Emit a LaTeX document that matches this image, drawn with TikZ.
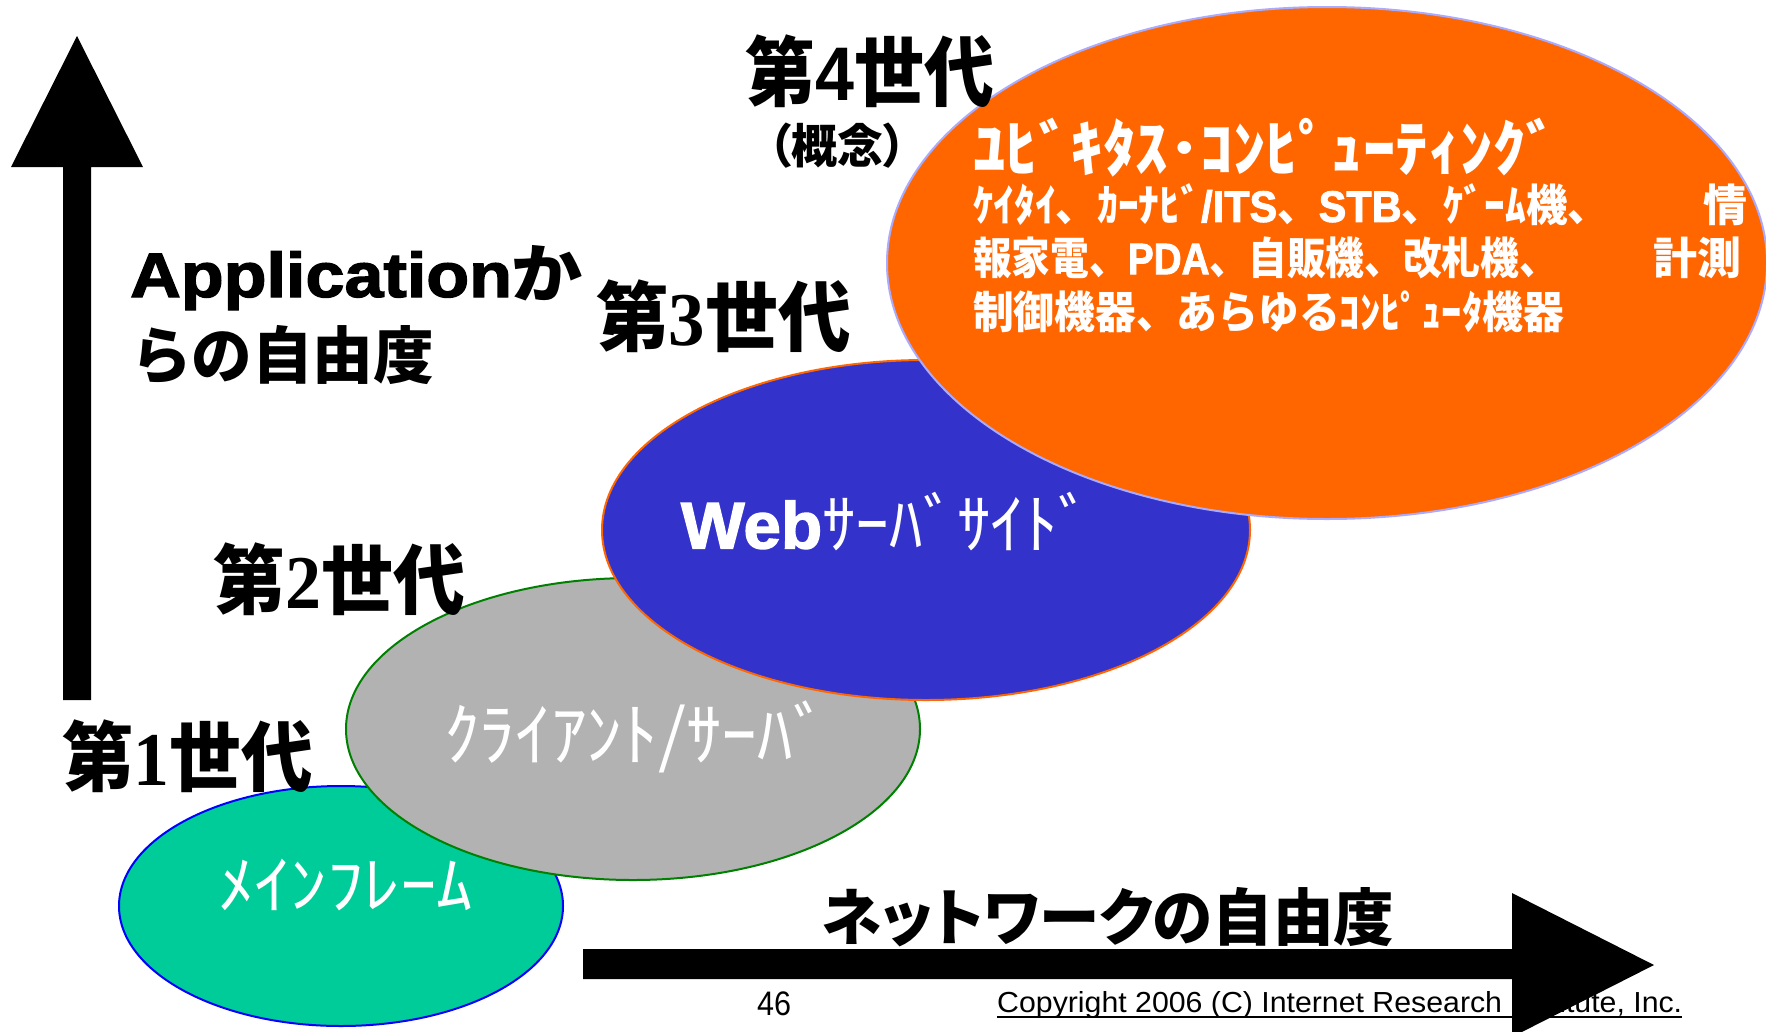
\documentclass[tikz,border=0pt]{standalone}
\usepackage{fontspec}
\usepackage{graphicx}
\usetikzlibrary{shapes.geometric}
\newfontfamily\jp{Noto Sans CJK JP}
\newfontfamily\jpp{Noto Sans CJK JP}[RawFeature=+palt]
\newfontfamily\heavy{Liberation Sans Bold}[FakeBold=2]
\newfontfamily\lsans{Liberation Sans}
\newfontfamily\lserif{Liberation Serif}
\definecolor{mfgreen}{RGB}{0,204,153}
\definecolor{mfline}{RGB}{0,0,255}
\definecolor{csgray}{RGB}{178,178,178}
\definecolor{csline}{RGB}{0,128,0}
\definecolor{webblue}{RGB}{51,51,204}
\definecolor{weborange}{RGB}{255,102,0}
\definecolor{ubiline}{RGB}{170,170,255}
\newcommand\fitw[2]{\resizebox{#1pt}{\height}{#2}}
\newcommand\fsz[1]{\fontsize{#1}{#1}\selectfont}
\tikzset{
  ell/.style={ellipse, inner sep=0pt, line width=2pt},
  txt/.style={inner sep=0pt, outer sep=0pt, anchor=center},
  wtxt/.style={txt, text=white},
}
\begin{document}
\begin{tikzpicture}[x=1pt,y=-1pt]
\useasboundingbox (0,0) rectangle (1766,1031);
\fill[white] (0,0) rectangle (1766,1031);
% vertical arrow
\fill[black] (63,700) -- (63,167) -- (11,167) -- (77,36) -- (143,167) -- (91,167) -- (91,700) -- cycle;
% ellipses
\node[ell, fill=mfgreen, draw=mfline, minimum width=444pt, minimum height=240pt] (mf) at (341,906) {};
\node[ell, fill=csgray, draw=csline, minimum width=574pt, minimum height=302pt] (cs) at (633,729) {};
\node[ell, fill=webblue, draw=weborange, minimum width=648pt, minimum height=340pt] (web) at (926,530) {};
\node[ell, fill=weborange, draw=ubiline, minimum width=880pt, minimum height=512pt] (ubi) at (1327,263) {};
% generation labels
\node[txt] (g4) at (870,71) {\fitw{249}{\fsz{76}\jp\bfseries 第{\lsans\bfseries 4}世代}};
\node[txt] (g4c) at (837,146) {\fitw{138}{\fsz{47}\jpp\bfseries （概念）}};
\node[txt] (g3) at (723.5,316.5) {\fitw{255}{\fsz{76}\jp\bfseries 第{\lserif\bfseries 3}世代}};
\node[txt] (g2) at (339,579) {\fitw{252}{\fsz{76}\jp\bfseries 第{\lserif\bfseries 2}世代}};
\node[txt] (g1) at (187.5,756.5) {\fitw{251}{\fsz{76}\jp\bfseries 第{\lserif\bfseries 1}世代}};
% axis labels
\node[inner sep=0pt, anchor=base west] (app) at (130,297) {\fitw{453}{\fsz{63}\heavy Application{\jp\bfseries\fsz{64}か}}};
\node[txt] (app2) at (282.5,355.5) {\fitw{303}{\fsz{62}\jp\bfseries らの自由度}};
\node[txt] (net) at (1108,917.5) {\fitw{572}{\fsz{62}\jpp\bfseries ネットワークの自由度}};
% ellipse labels
\node[wtxt] (mft) at (345.5,885) {\fitw{255}{\fsz{64}\jp ﾒｲﾝﾌﾚｰﾑ}};
\node[wtxt] (cst) at (636.5,737) {\fitw{385}{\fsz{70}\jp ｸﾗｲｱﾝﾄ/ｻｰﾊﾞ}};
\node[wtxt] (webt) at (886.5,521.5) {\fitw{411}{\fsz{66}\heavy Web{\jp ｻｰﾊﾞｻｲﾄﾞ}}};
\node[wtxt, anchor=west] (ubt) at (973,148) {\fitw{585}{\fsz{62}\jp\bfseries ﾕﾋﾞｷﾀｽ･ｺﾝﾋﾟｭｰﾃｨﾝｸﾞ}};
\node[wtxt, anchor=west] (ub2) at (973,205) {\fitw{636}{\fsz{44}\jp\bfseries ｹｲﾀｲ、ｶｰﾅﾋﾞ{\heavy /ITS}、{\heavy STB}、ｹﾞｰﾑ機、}};
\node[wtxt] (ub2b) at (1725,205) {\fsz{44}\jp\bfseries 情};
\node[wtxt, anchor=west] (ub3) at (973,257.5) {\fitw{585}{\fsz{44}\jp\bfseries 報家電、{\heavy PDA}、自販機、改札機、}};
\node[wtxt] (ub3b) at (1697,257.5) {\fsz{44}\jp\bfseries 計測};
\node[wtxt, anchor=west] (ub4) at (973,312) {\fitw{591}{\fsz{44}\jp\bfseries 制御機器、あらゆるｺﾝﾋﾟｭｰﾀ機器}};
% footer
\node[txt] (pg) at (774,1003.5) {\fitw{34}{\fsz{34}\lsans 46}};
\node[inner sep=0pt, anchor=base west] (cr) at (997,1012) {\fitw{685}{\fsz{29}\lsans Copyright 2006 (C) Internet Research Institute, Inc.}};
\draw[line width=2pt] ([yshift=-5pt]cr.base west) -- ([yshift=-5pt]cr.base east);
% horizontal arrow
\fill[black] (583,949) -- (1512,949) -- (1512,893) -- (1654,965) -- (1512,1037) -- (1512,979) -- (583,979) -- cycle;
\end{tikzpicture}
\end{document}
